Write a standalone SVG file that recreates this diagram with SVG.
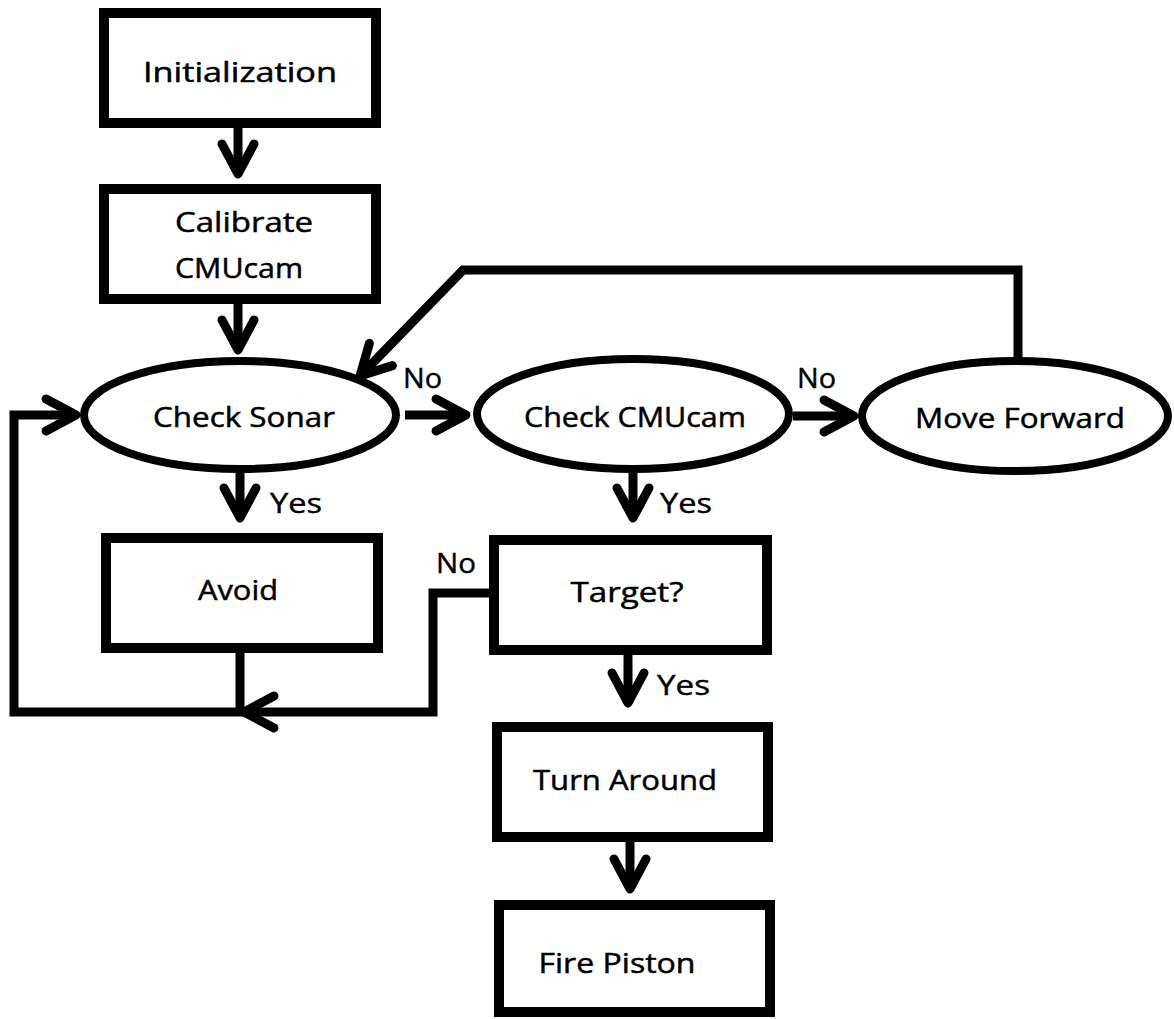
<svg xmlns="http://www.w3.org/2000/svg" width="1174" height="1019" viewBox="0 0 1174 1019">
<style>
.box{fill:#fff;stroke:#000;stroke-width:10}
.ell{fill:#fff;stroke:#000;stroke-width:8}
.con{fill:none;stroke:#000;stroke-width:9;stroke-linejoin:miter}
.t{font-family:"Comic Sans MS","Open Sans","Liberation Sans",sans-serif;font-size:28px;fill:#000;stroke:#000;stroke-width:0.5;text-anchor:middle}
.l{font-family:"Comic Sans MS","Open Sans","Liberation Sans",sans-serif;font-size:27px;fill:#000;stroke:#000;stroke-width:0.4}
</style>
<defs>
<marker id="arr" markerUnits="userSpaceOnUse" viewBox="-36 -22 42 44" markerWidth="42" markerHeight="44" refX="0" refY="0" orient="auto" overflow="visible">
<path d="M-30,-16 L0,0 L-30,16" fill="none" stroke="#000" stroke-width="9" stroke-linecap="round" stroke-linejoin="round"/>
</marker>
</defs>
<rect width="1174" height="1019" fill="#fff"/>
<g id="connectors">
<path class="con" d="M238,128 V174" marker-end="url(#arr)"/>
<path class="con" d="M238,304 V350" marker-end="url(#arr)"/>
<path class="con" d="M240,473 V518" marker-end="url(#arr)"/>
<path class="con" d="M405,415 H466" marker-end="url(#arr)"/>
<path class="con" d="M793,416 H854" marker-end="url(#arr)"/>
<path class="con" d="M633,472 V518" marker-end="url(#arr)"/>
<path class="con" d="M628,655 V703" marker-end="url(#arr)"/>
<path class="con" d="M630,842 V889" marker-end="url(#arr)"/>
<path class="con" d="M1018,362 V270 H463 L360,376" marker-end="url(#arr)"/>
<path class="con" d="M240,653 V712"/>
<path class="con" d="M490,593 H433 V712 H244" marker-end="url(#arr)"/>
<path class="con" d="M244,712 H14 V415 H76" marker-end="url(#arr)"/>
</g>
<g id="initialization"><rect class="box" x="104" y="13" width="272" height="110"/><text class="t" x="240" y="82" textLength="194" lengthAdjust="spacingAndGlyphs">Initialization</text></g>
<g id="calibrate"><rect class="box" x="104" y="189" width="272" height="110"/><text class="t" x="244" y="232" textLength="138" lengthAdjust="spacingAndGlyphs">Calibrate</text><text class="t" x="239" y="278" textLength="128" lengthAdjust="spacingAndGlyphs">CMUcam</text></g>
<g id="check-sonar"><ellipse class="ell" cx="240" cy="415" rx="156" ry="54"/><text class="t" x="244" y="427" textLength="182" lengthAdjust="spacingAndGlyphs">Check Sonar</text></g>
<g id="check-cmucam"><ellipse class="ell" cx="633" cy="414" rx="156" ry="55"/><text class="t" x="635" y="427" textLength="222" lengthAdjust="spacingAndGlyphs">Check CMUcam</text></g>
<g id="move-forward"><ellipse class="ell" cx="1015" cy="416" rx="153" ry="55"/><text class="t" x="1020" y="428" textLength="210" lengthAdjust="spacingAndGlyphs">Move Forward</text></g>
<g id="avoid"><rect class="box" x="106" y="538" width="272" height="110"/><text class="t" x="238" y="600" textLength="80" lengthAdjust="spacingAndGlyphs">Avoid</text></g>
<g id="target"><rect class="box" x="494" y="540" width="273" height="110"/><text class="t" x="627" y="602" textLength="113" lengthAdjust="spacingAndGlyphs">Target?</text></g>
<g id="turn-around"><rect class="box" x="497" y="727" width="271" height="110"/><text class="t" x="625" y="790" textLength="184" lengthAdjust="spacingAndGlyphs">Turn Around</text></g>
<g id="fire-piston"><rect class="box" x="499" y="905" width="271" height="107"/><text class="t" x="617" y="973" textLength="157" lengthAdjust="spacingAndGlyphs">Fire Piston</text></g>
<g id="labels">
<text class="l" x="403" y="388" textLength="39" lengthAdjust="spacingAndGlyphs">No</text>
<text class="l" x="797" y="388" textLength="39" lengthAdjust="spacingAndGlyphs">No</text>
<text class="l" x="436" y="573" textLength="40" lengthAdjust="spacingAndGlyphs">No</text>
<text class="l" x="270" y="513" textLength="52" lengthAdjust="spacingAndGlyphs">Yes</text>
<text class="l" x="660" y="513" textLength="52" lengthAdjust="spacingAndGlyphs">Yes</text>
<text class="l" x="657" y="695" textLength="53" lengthAdjust="spacingAndGlyphs">Yes</text>
</g>
</svg>
